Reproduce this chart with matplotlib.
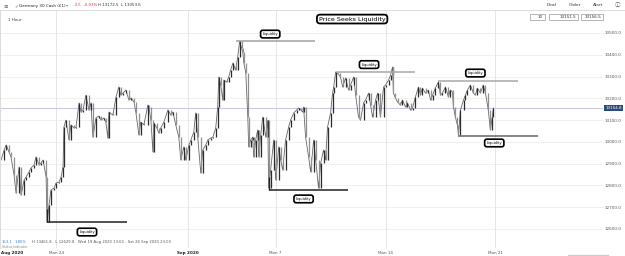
import numpy as np
import matplotlib.pyplot as plt
from matplotlib.patches import Rectangle

# --- data: Germany 30 Cash, 1 hour ---
# x = trading days since Mon 24 Aug 2020
days = [-2.50, -2.36, -2.27, -2.14, -2.05, -1.91, -1.82, -1.68, -1.59, -1.45,
        -1.36, -1.23, -1.14, -1.00, -0.91, -0.77, -0.68, -0.59, -0.45, -0.41,
        -0.32, -0.23, -0.09, 0.00, 0.14, 0.23, 0.32, 0.36, 0.45, 0.59,
        0.68, 0.82, 0.91, 1.05, 1.14, 1.23, 1.36, 1.50, 1.59, 1.68,
        1.82, 1.95, 2.05, 2.18, 2.27, 2.36, 2.41, 2.59, 2.73, 2.86,
        2.95, 3.05, 3.18, 3.32, 3.41, 3.55, 3.64, 3.77, 3.86, 4.00,
        4.18, 4.23, 4.32, 4.41, 4.45, 4.59, 4.68, 4.77, 4.91, 5.09,
        5.23, 5.32, 5.45, 5.59, 5.68, 5.82, 5.91, 6.05, 6.14, 6.27,
        6.36, 6.45, 6.59, 6.68, 6.82, 6.91, 7.05, 7.14, 7.27, 7.36,
        7.41, 7.50, 7.59, 7.64, 7.77, 7.86, 7.95, 8.05, 8.18, 8.27,
        8.36, 8.45, 8.50, 8.55, 8.64, 8.73, 8.77, 8.86, 8.95, 9.00,
        9.09, 9.18, 9.23, 9.32, 9.41, 9.55, 9.64, 9.68, 9.77, 9.91,
        10.00, 10.14, 10.23, 10.32, 10.45, 10.59, 10.68, 10.82, 10.95, 11.05,
        11.14, 11.23, 11.27, 11.36, 11.50, 11.59, 11.73, 11.82, 11.95, 12.05,
        12.18, 12.27, 12.36, 12.50, 12.59, 12.64, 12.73, 12.82, 12.95, 13.05,
        13.18, 13.32, 13.41, 13.55, 13.64, 13.77, 13.86, 14.00, 14.09, 14.23,
        14.32, 14.41, 14.55, 14.64, 14.77, 14.91, 15.00, 15.14, 15.23, 15.32,
        15.36, 15.45, 15.55, 15.68, 15.77, 15.91, 16.00, 16.14, 16.23, 16.36,
        16.50, 16.59, 16.68, 16.82, 16.95, 17.05, 17.14, 17.27, 17.41, 17.50,
        17.59, 17.73, 17.86, 17.95, 18.05, 18.09, 18.18, 18.27, 18.32, 18.41,
        18.55, 18.64, 18.73, 18.86, 19.00, 19.09, 19.18, 19.32, 19.45, 19.55,
        19.68, 19.77, 19.86, 19.91]
close = [12917, 12963, 12986, 12954, 12931, 12848, 12765, 12885, 12756, 12825,
         12839, 12862, 12880, 12894, 12931, 12894, 12903, 12917, 12839, 12630,
         12710, 12779, 12788, 12811, 12816, 12839, 12885, 13068, 13100, 13009,
         13078, 13064, 13068, 13179, 13137, 13146, 13215, 13146, 13179, 13022,
         13110, 13119, 13100, 13110, 13091, 13018, 13137, 13123, 13206, 13252,
         13215, 13224, 13238, 13192, 13202, 13183, 13133, 13032, 13091, 13078,
         13169, 13160, 13100, 12954, 13087, 13064, 13041, 13064, 13091, 13146,
         13123, 13137, 13078, 13022, 12917, 12977, 12917, 12986, 13009, 13045,
         13133, 13022, 12857, 12963, 12986, 13009, 13018, 13022, 13064, 13160,
         13298, 13261, 13192, 13284, 13275, 13298, 13330, 13362, 13330, 13390,
         13462, 13431, 13413, 13362, 13316, 13114, 12977, 13009, 13022, 12931,
         13009, 13055, 12931, 13032, 13114, 13022, 13100, 12788, 12871, 13009,
         12825, 12977, 12917, 12871, 13009, 13068, 13100, 13133, 13146, 13156,
         13146, 13137, 13160, 13022, 12931, 12862, 13009, 12917, 12788, 12903,
         12963, 12917, 13068, 13133, 13224, 13252, 13321, 13316, 13298, 13252,
         13293, 13238, 13261, 13298, 13215, 13114, 13100, 13179, 13192, 13224,
         13169, 13114, 13192, 13224, 13114, 13252, 13261, 13284, 13307, 13344,
         13224, 13202, 13183, 13169, 13192, 13160, 13179, 13146, 13156, 13206,
         13252, 13215, 13247, 13224, 13238, 13192, 13215, 13247, 13275, 13215,
         13224, 13252, 13206, 13238, 13229, 13160, 13114, 13078, 13032, 13146,
         13192, 13215, 13238, 13261, 13224, 13215, 13247, 13224, 13261, 13224,
         13146, 13055, 13114, 13155]

last_price = 13154.8
price_ticks = [12600, 12700, 12800, 12900, 13000, 13100, 13200, 13300, 13400, 13500]
week_lines = [0, 6, 10, 15, 20]
date_ticks = [-2.0, 0, 6, 10, 15, 20]
date_labels = ["Aug 2020", "Mon 24", "Sep 2020", "Mon 7", "Mon 14", "Mon 21"]

# liquidity levels: (level, start day, end day, colour)
liq_levels = [13462, 12630, 12779, 13321, 13280, 13027]
liq_start = [8.18, -0.41, 9.68, 12.73, 17.41, 18.32]
liq_end = [11.77, 3.23, 13.27, 16.36, 21.05, 21.95]
liq_color = ['#a0a0a0', '#222222', '#222222', '#a8a8a8', '#a8a8a8', '#666666']
# label boxes (day, price)
box_x = [9.75, 1.41, 11.27, 14.25, 19.09, 19.95]
box_y = [13495, 12586, 12738, 13355, 13316, 12995]

fig = plt.figure(figsize=(6.25, 2.56), dpi=100)
ax = fig.add_axes([0, 1 - 248 / 256, 603 / 625, 238 / 256])
ax.set_xlim(-2.55, 24.9)
ax.set_ylim(12512.7, 13605.6)

for p in price_ticks:
    ax.axhline(p, color='#eeeeee', lw=0.6, zorder=0)
for d in week_lines:
    ax.axvline(d, color='#e6e6e6', lw=0.7, zorder=0)
ax.axhline(last_price, color='#c9c9e6', lw=0.8, zorder=1)

# price bars
t = np.array(days)
c = np.array(close)
ax.plot(t, c, color='#666666', lw=0.6, zorder=2)
prev = np.r_[c[0], c[:-1]]
cols = np.where(c >= prev, '#2b2b2b', '#909090')
ax.vlines(t, np.minimum(prev, c), np.maximum(prev, c), colors=cols, lw=0.9, zorder=3)

for lvl, a, b, col in zip(liq_levels, liq_start, liq_end, liq_color):
    ax.hlines(lvl, a, b, color=col, lw=1.1, zorder=4)
    if col == '#222222':
        ax.vlines(a, lvl, lvl + 60, color=col, lw=1.0, zorder=4)

for bx, by in zip(box_x, box_y):
    ax.text(bx, by, "Liquidity", fontsize=2.6, ha='center', va='center', zorder=6,
            bbox=dict(boxstyle='round,pad=0.5,rounding_size=0.6', fc='white', ec='black', lw=1.2))

ax.text(13.48, 13564, "Price Seeks Liquidity", fontsize=4.6, ha='center', va='center', zorder=6,
        bbox=dict(boxstyle='round,pad=0.3,rounding_size=0.5', fc='white', ec='black', lw=1.3))

ax.yaxis.tick_right()
ax.set_yticks(price_ticks)
ax.set_yticklabels([f"{p:.1f}" for p in price_ticks], fontsize=3.0, color='#555555')
ax.tick_params(axis='y', length=0, pad=1.5)
ax.set_xticks(date_ticks)
ax.set_xticklabels(date_labels, fontsize=3.0, color='#555555')
ax.tick_params(axis='x', length=0, pad=2)
for lab in ax.get_xticklabels():
    if "20" in lab.get_text():
        lab.set_fontweight('bold')
        lab.set_color('#222222')
for s in ['top', 'right', 'bottom']:
    ax.spines[s].set_visible(False)
ax.spines['left'].set_color('#dddddd')

ax.text(1.004, (last_price - 12512.7) / (13605.6 - 12512.7), f"{last_price:.1f}",
        transform=ax.transAxes, fontsize=3.0, color='white', va='center', ha='left',
        bbox=dict(boxstyle='square,pad=0.25', fc='#2c4a75', ec='none'))


# --- header / footer text (pixel positions) ---
def fx(x):
    return x / 625


def fy(y):
    return 1 - y / 256


fig.add_artist(plt.Line2D([0, 1], [fy(10), fy(10)], color='#dddddd', lw=0.7))
fig.text(fx(3), fy(5.5), "\u2261", fontsize=4, color='#555555', va='center')
fig.text(fx(14), fy(5.5), "\u2713", fontsize=3.4, color='#3a7bd5', va='center')
fig.text(fx(19), fy(5.5), "Germany 30 Cash (£1)", fontsize=3.0, color='#222222', va='center')
fig.text(fx(66), fy(5.5), "\u25be", fontsize=3.2, color='#888888', va='center')
fig.text(fx(73), fy(5.5), "-3.5  -0.03%", fontsize=2.9, color='#e03030', va='center')
fig.text(fx(98), fy(5.5), "H 13172.5  L 13053.6", fontsize=2.9, color='#333333', va='center')
fig.text(fx(8), fy(20), "1 Hour", fontsize=3.0, color='#444444', va='center')

for lab, x in zip(["Deal", "Order", "Alert"], [552, 575, 598]):
    fig.text(fx(x), fy(5.5), lab, fontsize=3.2, color='#333333', va='center', ha='center')
fig.text(fx(618), fy(5.5), "\u24d8", fontsize=4, color='#555555', va='center', ha='center',
         family=['DejaVu Sans', 'Noto Sans CJK SC'])

for x0, w, lab in [(530, 15, "10"), (549, 29, "13151.5"), (581, 22, "13156.5")]:
    fig.add_artist(Rectangle((fx(x0), fy(19.5)), w / 625, 6 / 256, fill=False,
                             ec='#aaaaaa', lw=0.6, transform=fig.transFigure))
    fig.text(fx(x0 + w - 2), fy(16.5), lab, fontsize=3.0, color='#333333', va='center', ha='right')

fig.text(fx(2), fy(242), "153.1", fontsize=2.7, color='#3a7bd5', va='center')
fig.text(fx(15), fy(242), "1.80%", fontsize=2.7, color='#3a7bd5', va='center')
fig.text(fx(32), fy(242), "H 13461.8   L 12629.8   Wed 19 Aug 2020 13:00 - Sat 26 Sep 2020 23:00",
         fontsize=2.7, color='#555555', va='center')
fig.text(fx(2), fy(247), "Status indicator", fontsize=2.3, color='#888888', va='center')
fig.add_artist(plt.Line2D([fx(568), fx(608)], [fy(255), fy(255)], color='#cccccc', lw=1.0))

fig.savefig("out.png", dpi=100)
